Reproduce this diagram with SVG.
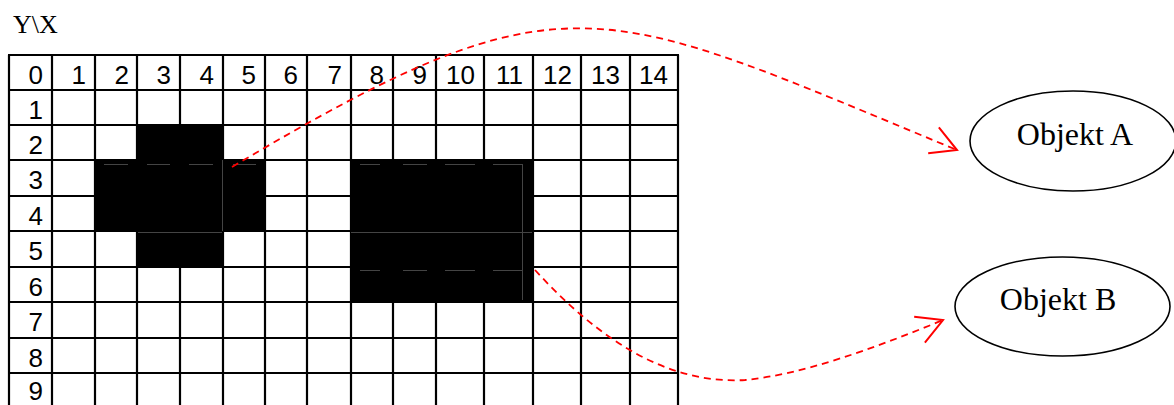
<svg xmlns="http://www.w3.org/2000/svg" width="1174" height="405" viewBox="0 0 1174 405">
<style>
.grid line{stroke:#000;stroke-width:2.2}
.num{font-family:"Liberation Sans",Arial,sans-serif;font-size:26px;fill:#000;text-anchor:end}
.serif{font-family:"Liberation Serif","Times New Roman",serif;fill:#000}
.blk{fill:#000}
.art{stroke:#444;stroke-width:1;fill:none}
.conn{fill:none;stroke:#f00;stroke-width:1.8;stroke-dasharray:7 5}
.node ellipse{fill:#fff;stroke:#000;stroke-width:1.6}
</style>
<defs>
<marker id="arr" markerUnits="userSpaceOnUse" markerWidth="60" markerHeight="60" viewBox="-30 -30 60 60" refX="0" refY="0" orient="auto" overflow="visible">
<path d="M-25.4,-14 L0,0 L-25.4,14" fill="none" stroke="#f00" stroke-width="2"/>
</marker>
</defs>
<rect width="1174" height="405" fill="#fff"/>
<text class="serif" x="13" y="33" font-size="26">Y\X</text>
<g id="grid" class="grid">
<line x1="9" y1="55" x2="9" y2="405"/>
<line x1="52" y1="55" x2="52" y2="405"/>
<line x1="95" y1="55" x2="95" y2="405"/>
<line x1="137" y1="55" x2="137" y2="405"/>
<line x1="180" y1="55" x2="180" y2="405"/>
<line x1="223" y1="55" x2="223" y2="405"/>
<line x1="265" y1="55" x2="265" y2="405"/>
<line x1="307" y1="55" x2="307" y2="405"/>
<line x1="351" y1="55" x2="351" y2="405"/>
<line x1="393" y1="55" x2="393" y2="405"/>
<line x1="436" y1="55" x2="436" y2="405"/>
<line x1="484" y1="55" x2="484" y2="405"/>
<line x1="533" y1="55" x2="533" y2="405"/>
<line x1="581" y1="55" x2="581" y2="405"/>
<line x1="630" y1="55" x2="630" y2="405"/>
<line x1="678" y1="55" x2="678" y2="405"/>
<line x1="8" y1="55" x2="679" y2="55"/>
<line x1="8" y1="90" x2="679" y2="90"/>
<line x1="8" y1="125" x2="679" y2="125"/>
<line x1="8" y1="160" x2="679" y2="160"/>
<line x1="8" y1="196" x2="679" y2="196"/>
<line x1="8" y1="231" x2="679" y2="231"/>
<line x1="8" y1="267" x2="679" y2="267"/>
<line x1="8" y1="302" x2="679" y2="302"/>
<line x1="8" y1="338" x2="679" y2="338"/>
<line x1="8" y1="373" x2="679" y2="373"/>
</g>
<g id="labels">
<text class="num" x="43" y="84">0</text>
<text class="num" x="86" y="84">1</text>
<text class="num" x="129" y="84">2</text>
<text class="num" x="171" y="84">3</text>
<text class="num" x="214" y="84">4</text>
<text class="num" x="256" y="84">5</text>
<text class="num" x="298" y="84">6</text>
<text class="num" x="342" y="84">7</text>
<text class="num" x="384" y="84">8</text>
<text class="num" x="427" y="84">9</text>
<text class="num" x="475" y="84">10</text>
<text class="num" x="523" y="84">11</text>
<text class="num" x="572" y="84">12</text>
<text class="num" x="620" y="84">13</text>
<text class="num" x="668" y="84">14</text>
<text class="num" x="43" y="119">1</text>
<text class="num" x="43" y="154">2</text>
<text class="num" x="43" y="189">3</text>
<text class="num" x="43" y="225">4</text>
<text class="num" x="43" y="260">5</text>
<text class="num" x="43" y="296">6</text>
<text class="num" x="43" y="331">7</text>
<text class="num" x="43" y="367">8</text>
<text class="num" x="43" y="400">9</text>
</g>
<g id="shape-left">
<rect class="blk" x="136" y="124" width="88" height="37"/>
<rect class="blk" x="94" y="159" width="172" height="73"/>
<rect class="blk" x="136" y="230" width="88" height="38"/>
<path class="art" d="M104,164.5H128M147,164.5H170M189,164.5H213M233,164.5H256M222.5,160V231M138,232.5H222"/>
</g>
<g id="shape-right">
<rect class="blk" x="350" y="159" width="184" height="144"/>
<path class="art" d="M360,164.5H380M403,164.5H427M445,164.5H475M493,164.5H523M522.5,164V300M351,232.5H532M360,270.5H380M403,270.5H427M445,270.5H475M493,270.5H523"/>
</g>
<g id="connectors">
<path class="conn" d="M232,167 C567,-32 598,2 957,150" marker-end="url(#arr)"/>
<path class="conn" d="M535,270 C590,330 660,385 745,380 C800,375 873,349 943,320" marker-end="url(#arr)"/>
</g>
<g id="objekt-a" class="node">
<ellipse cx="1073" cy="141" rx="103" ry="50"/>
<text class="serif" x="1075" y="145" font-size="32" text-anchor="middle">Objekt A</text>
</g>
<g id="objekt-b" class="node">
<ellipse cx="1062.5" cy="306.5" rx="107.5" ry="49.5"/>
<text class="serif" x="1058" y="310" font-size="32" text-anchor="middle">Objekt B</text>
</g>
</svg>
